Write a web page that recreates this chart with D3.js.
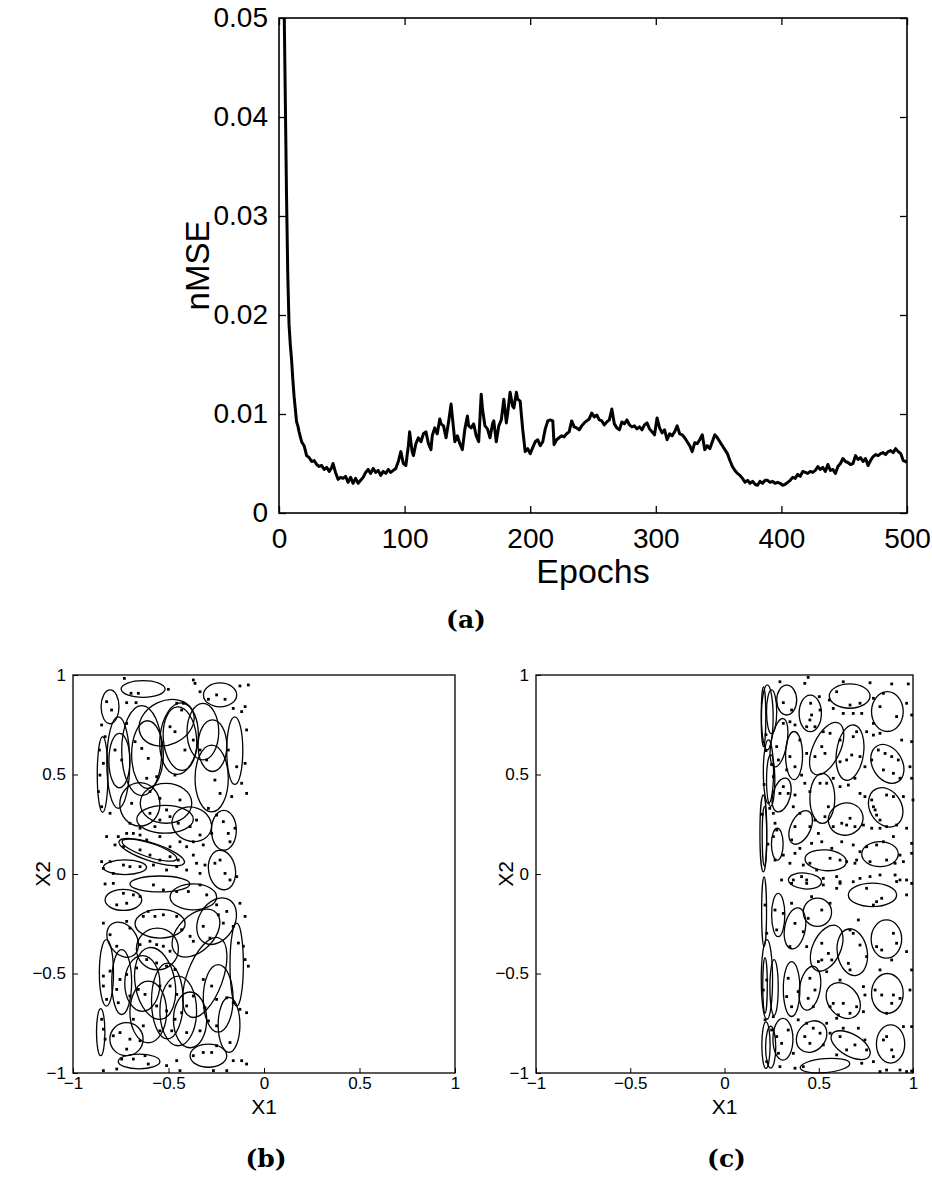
<!DOCTYPE html>
<html><head><meta charset="utf-8">
<script src="https://cdn.jsdelivr.net/npm/d3@7"></script>
<style>body{margin:0;background:#fff}svg{display:block}</style>
</head><body>
<script>
// ---------- Data: panel (a) nMSE curve ----------
const epochs = [0,2,3,4,5,6,7,8,9,10,11,12,13,14,15,16,18,20,22,24,26,28,30,32,34,36,38,40,42,43,45,47,49,51,53,55,57,59,61,63,65,67,69,71,73,75,77,79,81,83,85,87,89,91,93,95,97,99,101,103,104,106,107,109,111,113,115,117,119,121,122,124,126,128,129,131,133,135,137,139,140,142,144,146,148,150,151,153,155,157,159,161,162,164,166,168,170,171,173,175,177,179,181,182,184,186,187,189,190,192,194,196,198,200,202,204,206,208,210,212,214,216,218,219,221,223,225,227,229,231,233,235,237,239,241,243,245,247,249,251,253,255,257,259,261,263,265,267,269,271,273,275,277,279,281,283,285,287,289,291,293,295,297,299,301,303,305,307,309,311,313,315,317,319,321,323,325,327,329,331,333,335,337,339,341,343,345,347,349,351,353,355,357,359,361,363,365,367,369,371,373,375,377,379,381,383,385,387,389,391,393,395,397,399,401,403,405,407,409,411,413,415,417,419,421,423,425,427,429,431,433,435,437,439,441,443,445,447,449,451,453,455,457,459,461,463,465,467,469,471,473,475,477,479,481,483,485,487,489,491,493,495,497,499,500];
const nmse = [0.2,0.12,0.08,0.052,0.042,0.032,0.024,0.019,0.017,0.0155,0.0135,0.0118,0.0105,0.0092,0.0088,0.0082,0.0072,0.0068,0.0058,0.0056,0.0052,0.0053,0.0049,0.0047,0.0048,0.0044,0.0046,0.0042,0.0046,0.0050,0.0041,0.0034,0.0036,0.0035,0.0037,0.0031,0.0036,0.0030,0.0035,0.0030,0.0033,0.0036,0.0041,0.0044,0.0040,0.0045,0.0041,0.0043,0.0038,0.0042,0.0040,0.0044,0.0041,0.0043,0.0045,0.0052,0.0062,0.0050,0.0048,0.0068,0.0082,0.0062,0.0058,0.0070,0.0076,0.0072,0.0080,0.0082,0.0070,0.0064,0.0078,0.0086,0.0080,0.0095,0.0090,0.0088,0.0076,0.0092,0.0110,0.0085,0.0072,0.0078,0.0070,0.0064,0.0085,0.0098,0.0088,0.0086,0.0090,0.0078,0.0072,0.0120,0.0105,0.0088,0.0085,0.0076,0.0090,0.0093,0.0072,0.0088,0.0094,0.0115,0.0091,0.0100,0.0122,0.0108,0.0106,0.0122,0.0115,0.0113,0.0085,0.0062,0.0065,0.0060,0.0066,0.0072,0.0074,0.0068,0.0072,0.0085,0.0093,0.0094,0.0093,0.0069,0.0074,0.0076,0.0078,0.0077,0.0080,0.0082,0.0093,0.0087,0.0086,0.0084,0.0088,0.0091,0.0093,0.0095,0.0101,0.0097,0.0099,0.0094,0.0093,0.0089,0.0092,0.0094,0.0105,0.0090,0.0086,0.0084,0.0092,0.0090,0.0094,0.0089,0.0087,0.0088,0.0085,0.0087,0.0084,0.0089,0.0091,0.0085,0.0082,0.0079,0.0096,0.0086,0.0081,0.0084,0.0074,0.0080,0.0078,0.0082,0.0088,0.0080,0.0079,0.0076,0.0072,0.0068,0.0062,0.0071,0.0070,0.0074,0.0079,0.0064,0.0068,0.0065,0.0072,0.0079,0.0076,0.0072,0.0068,0.0064,0.0060,0.0053,0.0047,0.0043,0.0040,0.0038,0.0035,0.0031,0.0033,0.0030,0.0032,0.0029,0.0028,0.0032,0.0030,0.0033,0.0033,0.0031,0.0032,0.0030,0.0031,0.0030,0.0028,0.0029,0.0031,0.0033,0.0036,0.0035,0.0039,0.0037,0.0042,0.0041,0.0040,0.0042,0.0041,0.0043,0.0047,0.0044,0.0046,0.0042,0.0049,0.0043,0.0044,0.0040,0.0047,0.0050,0.0055,0.0052,0.0051,0.0049,0.0050,0.0058,0.0054,0.0056,0.0052,0.0055,0.0048,0.0053,0.0057,0.0059,0.0058,0.0060,0.0061,0.0059,0.0062,0.0063,0.0061,0.0065,0.0062,0.0060,0.0053,0.0052,0.0051];
const aXTicks = [0,100,200,300,400,500];
const aYTicks = [0,0.01,0.02,0.03,0.04,0.05];
const aYTickLabels = ["0","0.01","0.02","0.03","0.04","0.05"];

// ---------- Data: panels (b) and (c) ----------
const xyTicks = [-1,-0.5,0,0.5,1];
const xyTickLabels = ["\u22121","\u22120.5","0","0.5","1"];

const dotsB = [[-0.731,0.983],[-0.37,0.975],[-0.361,0.958],[-0.248,0.9],[-0.204,0.878],[-0.126,0.945],[-0.082,0.95],[-0.824,0.866],[-0.798,0.824],[-0.719,0.861],[-0.67,0.861],[-0.696,0.908],[-0.658,0.908],[-0.501,0.928],[-0.457,0.858],[-0.422,0.858],[-0.335,0.916],[-0.291,0.878],[-0.161,0.832],[-0.117,0.816],[-0.099,0.841],[-0.091,0.724],[-0.85,0.749],[-0.832,0.69],[-0.862,0.623],[-0.841,0.556],[-0.859,0.497],[-0.867,0.414],[-0.85,0.338],[-0.806,0.305],[-0.78,0.623],[-0.745,0.573],[-0.719,0.757],[-0.675,0.665],[-0.64,0.631],[-0.606,0.581],[-0.562,0.489],[-0.614,0.481],[-0.492,0.74],[-0.466,0.715],[-0.431,0.824],[-0.414,0.623],[-0.466,0.497],[-0.37,0.673],[-0.335,0.623],[-0.3,0.573],[-0.257,0.472],[-0.23,0.405],[-0.291,0.33],[-0.187,0.623],[-0.143,0.539],[-0.099,0.556],[-0.117,0.456],[-0.091,0.405],[-0.169,0.389],[-0.693,0.355],[-0.597,0.414],[-0.545,0.38],[-0.51,0.322],[-0.44,0.372],[-0.597,0.305],[-0.545,0.271],[-0.492,0.288],[-0.571,0.238],[-0.649,0.23],[-0.702,0.255],[-0.449,0.255],[-0.387,0.238],[-0.353,0.271],[-0.335,0.196],[-0.274,0.204],[-0.248,0.296],[-0.213,0.263],[-0.187,0.204],[-0.152,0.23],[-0.178,0.162],[-0.824,0.188],[-0.78,0.146],[-0.763,0.188],[-0.719,0.204],[-0.684,0.204],[-0.649,0.196],[-0.614,0.171],[-0.545,0.188],[-0.492,0.137],[-0.44,0.162],[-0.405,0.137],[-0.37,0.162],[-0.318,0.146],[-0.736,0.137],[-0.649,0.121],[-0.597,0.095],[-0.545,0.07],[-0.492,0.087],[-0.449,0.07],[-0.37,0.095],[-0.353,0.054],[-0.309,0.045],[-0.85,0.062],[-0.841,0.028],[-0.806,0.062],[-0.789,0.003],[-0.736,0.045],[-0.702,0.037],[-0.649,0.037],[-0.579,0.045],[-0.51,0.02],[-0.457,0.037],[-0.405,0.02],[-0.335,0.003],[-0.257,0.054],[-0.23,0.07],[-0.204,0.003],[-0.178,-0.03],[-0.143,-0.013],
[-0.832,-0.05],[-0.789,-0.047],[-0.736,-0.097],[-0.684,-0.105],[-0.771,-0.155],[-0.719,-0.147],[-0.649,-0.113],[-0.579,-0.055],[-0.527,-0.08],[-0.457,-0.088],[-0.396,-0.088],[-0.335,-0.055],[-0.3,-0.105],[-0.248,-0.155],[-0.195,-0.188],[-0.126,-0.147],[-0.099,-0.213],[-0.841,-0.247],[-0.806,-0.305],[-0.771,-0.363],[-0.719,-0.238],[-0.702,-0.272],[-0.632,-0.213],[-0.606,-0.188],[-0.571,-0.213],[-0.527,-0.205],[-0.457,-0.213],[-0.431,-0.28],[-0.387,-0.313],[-0.37,-0.338],[-0.318,-0.263],[-0.283,-0.322],[-0.239,-0.205],[-0.213,-0.247],[-0.161,-0.263],[-0.134,-0.347],[-0.108,-0.363],[-0.649,-0.355],[-0.597,-0.338],[-0.562,-0.355],[-0.527,-0.363],[-0.492,-0.388],[-0.614,-0.43],[-0.562,-0.447],[-0.51,-0.463],[-0.466,-0.48],[-0.667,-0.472],[-0.719,-0.505],[-0.754,-0.53],[-0.806,-0.488],[-0.841,-0.513],[-0.841,-0.563],[-0.824,-0.63],[-0.771,-0.58],[-0.763,-0.647],[-0.702,-0.613],[-0.658,-0.58],[-0.623,-0.605],[-0.545,-0.563],[-0.492,-0.563],[-0.457,-0.605],[-0.562,-0.663],[-0.51,-0.688],[-0.466,-0.73],[-0.431,-0.697],[-0.405,-0.663],[-0.37,-0.613],[-0.318,-0.53],[-0.274,-0.563],[-0.248,-0.63],[-0.195,-0.622],[-0.161,-0.647],[-0.126,-0.68],[-0.091,-0.697],[-0.082,-0.463],[-0.099,-0.43],[-0.309,-0.672],[-0.291,-0.738],[-0.248,-0.763],[-0.335,-0.788],[-0.405,-0.797],[-0.483,-0.788],[-0.545,-0.788],[-0.632,-0.763],[-0.684,-0.73],[-0.754,-0.797],[-0.789,-0.813],[-0.85,-0.73],[-0.841,-0.78],[-0.832,-0.83],[-0.702,-0.83],[-0.649,-0.838],[-0.719,-0.88],[-0.745,-0.93],[-0.684,-0.93],[-0.623,-0.913],[-0.606,-0.955],[-0.771,-0.98],[-0.841,-0.988],[-0.51,-0.963],[-0.457,-0.938],[-0.44,-0.988],[-0.37,-0.913],[-0.318,-0.897],[-0.274,-0.897],[-0.265,-0.988],[-0.195,-0.988],[-0.161,-0.938],[-0.117,-0.938],[-0.091,-0.955],[-0.178,-0.847],[-0.248,-0.863]];

const ellB = [[-0.633,0.93,0.115,0.042,0],[-0.23,0.90,0.087,0.06,0],[-0.806,0.84,0.047,0.085,0],[-0.845,0.50,0.028,0.19,0],[-0.763,0.56,0.06,0.23,0],[-0.757,0.57,0.055,0.137,0],[-0.64,0.62,0.105,0.226,0],[-0.61,0.60,0.083,0.17,0],[-0.51,0.76,0.15,0.11,25],[-0.445,0.68,0.10,0.18,-5],[-0.44,0.68,0.087,0.16,5],[-0.32,0.715,0.083,0.142,0],[-0.274,0.48,0.087,0.168,0],[-0.27,0.645,0.075,0.13,0],[-0.153,0.62,0.042,0.17,0],[-0.65,0.35,0.105,0.109,0],[-0.513,0.355,0.135,0.10,0],[-0.518,0.275,0.148,0.07,0],[-0.378,0.25,0.105,0.085,-20],[-0.21,0.22,0.065,0.10,0],[-0.588,0.11,0.18,0.045,-18],[-0.60,0.12,0.15,0.035,-18],[-0.728,0.034,0.113,0.037,0],[-0.22,0.02,0.07,0.10,10],[-0.545,-0.05,0.157,0.04,0],[-0.736,-0.13,0.096,0.053,0],[-0.37,-0.115,0.122,0.065,0],[-0.544,-0.25,0.131,0.072,0],[-0.356,-0.297,0.15,0.09,45],[-0.248,-0.237,0.13,0.09,60],[-0.74,-0.33,0.10,0.07,-55],[-0.558,-0.377,0.11,0.105,0],[-0.143,-0.455,0.035,0.208,0],[-0.825,-0.497,0.037,0.167,0],[-0.745,-0.543,0.052,0.163,0],[-0.637,-0.55,0.092,0.14,0],[-0.57,-0.55,0.19,0.10,-80],[-0.506,-0.638,0.083,0.19,0],[-0.606,-0.693,0.096,0.155,0],[-0.449,-0.688,0.096,0.175,0],[-0.387,-0.733,0.087,0.14,0],[-0.31,-0.52,0.22,0.09,70],[-0.24,-0.625,0.078,0.17,0],[-0.183,-0.758,0.057,0.138,0],[-0.855,-0.795,0.022,0.118,0],[-0.72,-0.83,0.087,0.083,0],[-0.654,-0.942,0.109,0.037,0],[-0.291,-0.913,0.096,0.058,0]];

const dotsC = [[0.294,0.966],[0.444,0.988],[0.63,0.966],[0.772,0.961],[0.887,0.955],[0.975,0.955],[0.426,0.958],[0.312,0.861],[0.356,0.824],[0.457,0.858],[0.503,0.891],[0.556,0.874],[0.595,0.916],[0.666,0.849],[0.719,0.858],[0.79,0.883],[0.843,0.908],[0.825,0.841],[0.913,0.791],[0.966,0.858],[0.993,0.799],[0.462,0.799],[0.453,0.774],[0.507,0.824],[0.577,0.832],[0.63,0.807],[0.683,0.807],[0.728,0.807],[0.79,0.757],[0.312,0.757],[0.347,0.765],[0.374,0.749],[0.436,0.74],[0.48,0.74],[0.524,0.715],[0.56,0.707],[0.613,0.673],[0.683,0.69],[0.701,0.715],[0.754,0.715],[0.79,0.698],[0.825,0.707],[0.94,0.673],[0.993,0.665],[0.277,0.64],[0.286,0.573],[0.347,0.59],[0.4,0.673],[0.436,0.606],[0.48,0.59],[0.516,0.64],[0.533,0.606],[0.613,0.564],[0.648,0.573],[0.675,0.598],[0.719,0.59],[0.745,0.539],[0.781,0.573],[0.816,0.623],[0.852,0.606],[0.887,0.59],[0.922,0.573],[0.843,0.523],[0.896,0.506],[0.931,0.481],[0.984,0.539],[0.993,0.481],[0.259,0.489],[0.33,0.523],[0.374,0.539],[0.409,0.497],[0.312,0.439],[0.294,0.405],[0.338,0.405],[0.374,0.397],[0.426,0.456],[0.453,0.414],[0.507,0.456],[0.542,0.456],[0.577,0.481],[0.613,0.439],[0.657,0.447],[0.692,0.481],[0.719,0.405],[0.745,0.389],[0.781,0.372],[0.79,0.338],[0.799,0.322],[0.807,0.296],[0.825,0.271],[0.86,0.397],[0.896,0.389],[0.949,0.389],[1.0,0.372],[0.259,0.305],[0.268,0.255],[0.277,0.221],[0.259,0.188],[0.365,0.338],[0.4,0.305],[0.374,0.238],[0.356,0.171],[0.453,0.238],[0.48,0.271],[0.498,0.204],[0.533,0.288],[0.551,0.338],[0.577,0.238],[0.622,0.255],[0.648,0.246],[0.666,0.28],[0.692,0.238],[0.737,0.246],[0.781,0.23],[0.825,0.23],[0.86,0.238],[0.913,0.246],[0.966,0.23],[0.896,0.188],[0.843,0.162],[0.807,0.146],[0.754,0.137],[0.719,0.112],[0.683,0.146],[0.622,0.162],[0.569,0.129],[0.516,0.162],[0.462,0.154],[0.4,0.129],[0.374,0.104],[0.312,0.095],[0.268,0.07],[0.347,0.054],[0.418,0.045],[0.453,0.054],[0.489,0.02],[0.56,0.079],[0.613,0.07],[0.648,0.062],[0.692,0.054],[0.701,0.07],[0.772,0.062],[0.86,0.07],[0.905,0.054],[0.949,0.062],[0.993,0.154],[0.993,0.104],[0.931,0.095],[0.905,-0.005],[0.931,-0.03],[0.966,-0.03],[0.825,-0.005],[0.772,-0.013],[0.719,-0.022],[0.683,-0.039],[0.613,-0.039],[0.595,-0.013],[0.524,-0.022],[0.436,-0.03],[0.409,-0.013],[0.365,-0.03],[0.303,-0.03],[0.22,0.7],[0.21,0.45],[0.23,0.15],[0.2,0.3],[0.25,0.55],[0.22,0.62],[0.24,0.33],
[0.356,-0.047],[0.436,-0.047],[0.524,-0.055],[0.613,-0.047],[0.595,-0.072],[0.913,-0.038],[0.993,-0.047],[0.966,-0.105],[0.754,-0.072],[0.807,-0.139],[0.834,-0.122],[0.79,-0.156],[0.462,-0.114],[0.56,-0.147],[0.516,-0.181],[0.444,-0.223],[0.356,-0.147],[0.312,-0.198],[0.268,-0.181],[0.277,-0.281],[0.347,-0.365],[0.418,-0.29],[0.374,-0.248],[0.436,-0.365],[0.516,-0.348],[0.551,-0.399],[0.516,-0.432],[0.569,-0.432],[0.498,-0.44],[0.542,-0.491],[0.666,-0.281],[0.683,-0.298],[0.71,-0.231],[0.719,-0.357],[0.657,-0.449],[0.666,-0.482],[0.754,-0.415],[0.807,-0.365],[0.834,-0.382],[0.913,-0.348],[0.896,-0.298],[0.966,-0.39],[0.993,-0.482],[0.984,-0.583],[0.887,-0.432],[0.825,-0.482],[0.799,-0.583],[0.834,-0.608],[0.896,-0.608],[0.887,-0.65],[0.931,-0.625],[0.86,-0.7],[0.949,-0.767],[0.993,-0.767],[0.86,-0.817],[0.887,-0.884],[0.896,-0.918],[0.843,-0.834],[0.79,-0.943],[0.825,-0.993],[0.86,-0.985],[0.931,-0.985],[0.966,-0.993],[0.993,-0.99],[0.728,-0.951],[0.745,-0.834],[0.754,-0.884],[0.692,-0.859],[0.648,-0.884],[0.613,-0.817],[0.595,-0.909],[0.56,-0.667],[0.577,-0.65],[0.604,-0.708],[0.63,-0.65],[0.666,-0.7],[0.701,-0.667],[0.745,-0.608],[0.737,-0.692],[0.453,-0.524],[0.48,-0.583],[0.471,-0.667],[0.444,-0.625],[0.338,-0.524],[0.33,-0.616],[0.356,-0.667],[0.391,-0.591],[0.391,-0.733],[0.436,-0.75],[0.471,-0.775],[0.507,-0.8],[0.453,-0.851],[0.426,-0.817],[0.524,-0.859],[0.542,-0.75],[0.56,-0.8],[0.595,-0.725],[0.63,-0.775],[0.613,-0.533],[0.737,-0.566],[0.71,-0.775],[0.277,-0.817],[0.286,-0.901],[0.303,-0.851],[0.338,-0.784],[0.365,-0.901],[0.374,-0.976],[0.418,-0.968],[0.294,-0.968],[0.259,-0.717],[0.25,-0.784],[0.215,-0.156],[0.224,-0.298],[0.206,-0.583],[0.224,-0.533],[0.215,-0.733],[0.224,-0.943]];

const ellC = [[0.227,0.787,0.031,0.163,0],[0.25,0.815,0.027,0.11,0],[0.33,0.874,0.053,0.075,0],[0.455,0.807,0.059,0.092,0],[0.664,0.894,0.108,0.061,0],[0.864,0.816,0.084,0.10,0],[0.289,0.66,0.13,0.04,80],[0.233,0.514,0.027,0.16,0],[0.245,0.47,0.022,0.13,0],[0.369,0.595,0.045,0.121,0],[0.542,0.63,0.15,0.068,65],[0.666,0.61,0.148,0.068,82],[0.864,0.553,0.11,0.075,-60],[0.303,0.397,0.092,0.044,75],[0.519,0.38,0.066,0.126,0],[0.855,0.335,0.11,0.08,-60],[0.643,0.276,0.093,0.08,20],[0.404,0.234,0.095,0.05,65],[0.206,0.204,0.018,0.193,0],[0.212,0.19,0.012,0.15,0],[0.28,0.15,0.031,0.08,0],[0.537,0.069,0.11,0.052,-5],[0.825,0.10,0.097,0.063,0],[0.427,-0.035,0.088,0.04,-5],[0.785,-0.105,0.128,0.059,0],[0.493,-0.192,0.075,0.071,0],[0.374,-0.273,0.11,0.052,80],[0.285,-0.206,0.035,0.109,0],[0.21,-0.19,0.013,0.175,0],[0.542,-0.373,0.13,0.07,65],[0.678,-0.393,0.125,0.075,-80],[0.859,-0.327,0.081,0.096,0],[0.356,-0.578,0.044,0.138,0],[0.453,-0.574,0.118,0.052,80],[0.63,-0.636,0.105,0.075,-50],[0.864,-0.60,0.084,0.10,0],[0.225,-0.53,0.03,0.2,0],[0.215,-0.56,0.012,0.14,0],[0.263,-0.57,0.022,0.14,0],[0.31,-0.83,0.053,0.105,0],[0.462,-0.817,0.09,0.07,50],[0.669,-0.86,0.115,0.055,-30],[0.881,-0.854,0.075,0.096,0],[0.533,-0.963,0.132,0.035,5],[0.22,-0.86,0.022,0.117,0],[0.245,-0.87,0.027,0.105,0],[0.207,0.79,0.012,0.15,0]];

// ---------- Drawing ----------
const W = 932, H = 1184;
const FONT = "'Liberation Sans', Arial, Helvetica, sans-serif";
const svg = d3.select("body").append("svg").attr("width", W).attr("height", H)
  .style("font-family", FONT);
svg.append("rect").attr("width", W).attr("height", H).attr("fill", "#fff");

// Panel (a)
const A = {l: 279, r: 907, t: 18, b: 513};
const xa = d3.scaleLinear().domain([0, 500]).range([A.l, A.r]);
const ya = d3.scaleLinear().domain([0, 0.05]).range([A.b, A.t]);
const ga = svg.append("g");
ga.append("clipPath").attr("id", "clipA").append("rect")
  .attr("x", A.l).attr("y", A.t).attr("width", A.r - A.l).attr("height", A.b - A.t);
ga.append("path").datum(epochs.map((e, i) => [e, nmse[i]]))
  .attr("clip-path", "url(#clipA)")
  .attr("fill", "none").attr("stroke", "#000").attr("stroke-width", 3)
  .attr("stroke-linejoin", "round")
  .attr("d", d3.line().x(d => xa(d[0])).y(d => ya(d[1])));
const styleA = g => { g.select(".domain").remove(); g.selectAll("text").attr("font-size", 28).attr("font-family", FONT); g.selectAll("line").attr("stroke-width", 1.3); };
ga.append("g").attr("transform", `translate(0,${A.b})`)
  .call(d3.axisBottom(xa).tickValues(aXTicks).tickSize(-7).tickPadding(15).tickFormat(d3.format("d")))
  .call(styleA);
ga.append("g").attr("transform", `translate(0,${A.t})`)
  .call(d3.axisTop(xa).tickValues(aXTicks).tickSize(-7).tickFormat(""))
  .call(styleA);
ga.append("g").attr("transform", `translate(${A.l},0)`)
  .call(d3.axisLeft(ya).tickValues(aYTicks).tickSize(-7).tickPadding(11).tickFormat((d, i) => aYTickLabels[i]))
  .call(styleA);
ga.append("g").attr("transform", `translate(${A.r},0)`)
  .call(d3.axisRight(ya).tickValues(aYTicks).tickSize(-7).tickFormat(""))
  .call(styleA);
ga.append("rect").attr("x", A.l).attr("y", A.t).attr("width", A.r - A.l).attr("height", A.b - A.t)
  .attr("fill", "none").attr("stroke", "#000").attr("stroke-width", 1.6);
ga.append("text").attr("x", (A.l + A.r) / 2).attr("y", 583).attr("text-anchor", "middle")
  .attr("font-size", 34).text("Epochs");
ga.append("text").attr("transform", `translate(209,${(A.t + A.b) / 2}) rotate(-90)`)
  .attr("text-anchor", "middle").attr("font-size", 33).text("nMSE");
svg.append("text").attr("x", 466).attr("y", 628).attr("text-anchor", "middle")
  .attr("font-family", "'DejaVu Serif', serif").attr("font-weight", "bold").attr("font-size", 25).text("(a)");

// Panels (b), (c)
function scatterPanel(left, right, dots, ells, letter) {
  const P = {l: left, r: right, t: 675, b: 1073};
  const x = d3.scaleLinear().domain([-1, 1]).range([P.l, P.r]);
  const y = d3.scaleLinear().domain([-1, 1]).range([P.b, P.t]);
  const g = svg.append("g");
  g.append("g").selectAll("ellipse").data(ells).join("ellipse")
    .attr("cx", d => x(d[0])).attr("cy", d => y(d[1]))
    .attr("rx", d => x(d[0] + d[2]) - x(d[0])).attr("ry", d => y(d[1]) - y(d[1] + d[3]))
    .attr("transform", d => `rotate(${-d[4]},${x(d[0])},${y(d[1])})`)
    .attr("fill", "none").attr("stroke", "#000").attr("stroke-width", 1.3);
  g.append("g").selectAll("rect").data(dots).join("rect")
    .attr("x", d => x(d[0]) - 1.4).attr("y", d => y(d[1]) - 1.4)
    .attr("width", 2.8).attr("height", 2.8).attr("fill", "#000");
  const styleP = a => { a.select(".domain").remove(); a.selectAll("text").attr("font-size", 17).attr("font-family", FONT); };
  g.append("g").attr("transform", `translate(0,${P.b})`)
    .call(d3.axisBottom(x).tickValues(xyTicks).tickSize(-5).tickPadding(4).tickFormat((d, i) => xyTickLabels[i]))
    .call(styleP);
  g.append("g").attr("transform", `translate(${P.l},0)`)
    .call(d3.axisLeft(y).tickValues(xyTicks).tickSize(-5).tickPadding(7).tickFormat((d, i) => xyTickLabels[i]))
    .call(styleP);
  g.append("rect").attr("x", P.l).attr("y", P.t).attr("width", P.r - P.l).attr("height", P.b - P.t)
    .attr("fill", "none").attr("stroke", "#000").attr("stroke-width", 1.3);
  g.append("text").attr("x", (P.l + P.r) / 2).attr("y", 1114).attr("text-anchor", "middle")
    .attr("font-size", 21).text("X1");
  g.append("text").attr("transform", `translate(${P.l - 23},${(P.t + P.b) / 2}) rotate(-90)`)
    .attr("text-anchor", "middle").attr("font-size", 21).text("X2");
  svg.append("text").attr("x", (P.l + P.r) / 2 + 2).attr("y", 1167).attr("text-anchor", "middle")
    .attr("font-family", "'DejaVu Serif', serif").attr("font-weight", "bold").attr("font-size", 25).text(letter);
}
scatterPanel(73, 455, dotsB, ellB, "(b)");
scatterPanel(536, 913, dotsC, ellC, "(c)");
</script>
</body></html>
